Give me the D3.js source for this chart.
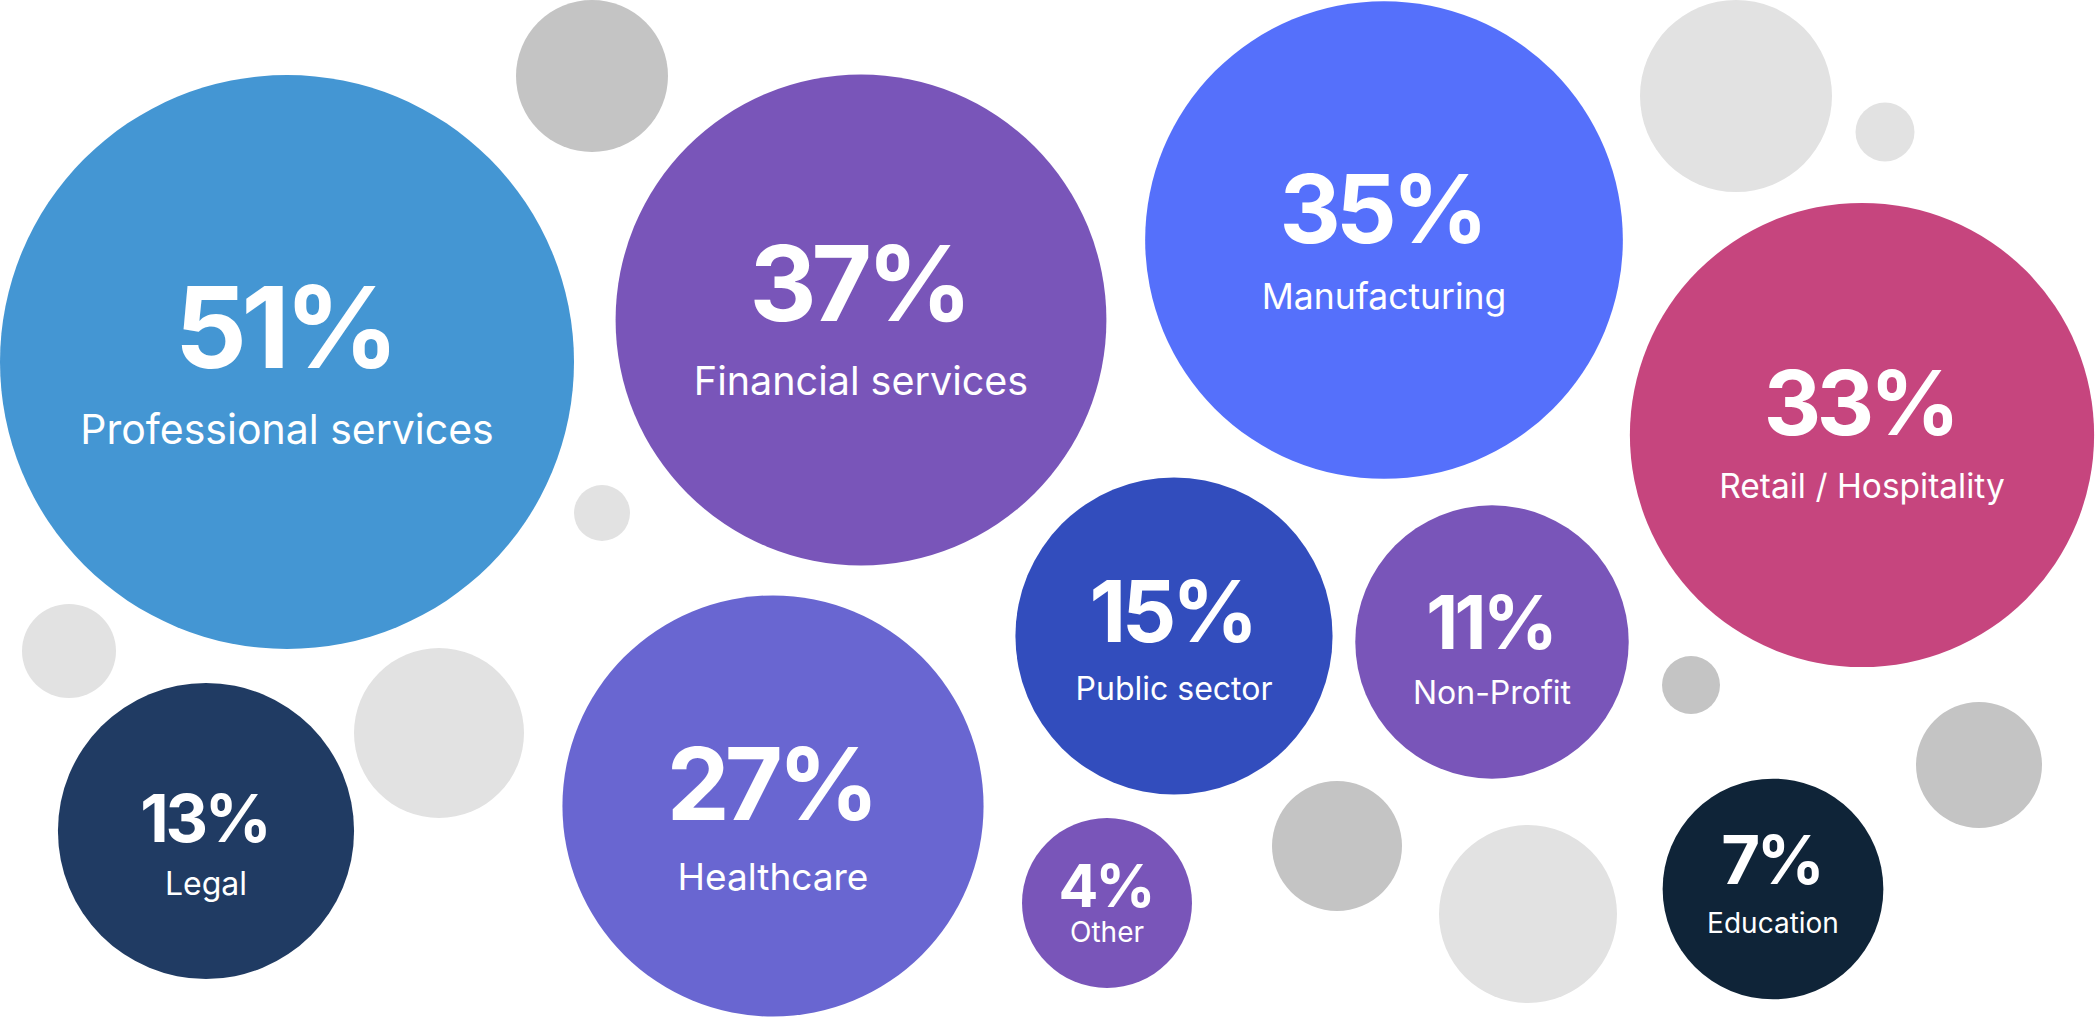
<!DOCTYPE html>
<html lang="en">
<head>
    <meta charset="UTF-8">
    <meta name="viewport" content="width=device-width, initial-scale=1.0">
    <style>
        html, body { margin: 0; padding: 0; background: #ffffff; overflow: hidden; }
        svg { display: block; }
    </style>
</head>
<body>
    <script src="https://d3js.org/d3.v7.min.js"></script>
    <div id="here"></div>

    <script>
        // data
        const sectors = ["Professional services", "Financial services", "Manufacturing", "Retail / Hospitality",
            "Healthcare", "Public sector", "Legal", "Non-Profit", "Education", "Other"];
        const shares = [51, 37, 35, 33, 27, 15, 13, 11, 7, 4];

        // layout (chart units = pixels of a 2096 x 1019 board)
        const centers = [[287, 362], [861, 320], [1384, 240], [1862, 435], [773, 806],
            [1174, 636], [206, 831], [1492, 642], [1773, 889], [1107, 903]];
        // baseline offsets from the centre: [value, label]
        const textOffsets = [[6, 82], [1, 75], [3, 69], [0, 63], [14, 84],
            [6, 64], [11, 64], [7, 62], [-5, 44], [4, 39]];
        const colors = ["#4496d3", "#7955b9", "#5570fb", "#c6457e", "#6966d1",
            "#324dbd", "#203b63", "#7955b9", "#0f2438", "#7955b9"];
        const valueFont = [113, 104, 95, 89, 100, 85, 66, 74, 67, 59];
        const labelFont = [41, 39.5, 35.5, 33.5, 37, 32, 32, 32, 28, 28];

        // decorative grey bubbles: x, y, radius, shade
        const fillers = [[592, 76, 76, 1], [602, 513, 28, 0], [69, 651, 47, 0], [439, 733, 85, 0],
            [1736, 96, 96, 0], [1885, 132, 29.5, 0], [1691, 685, 29, 1], [1979, 765, 63, 1],
            [1528, 914, 89, 0], [1337, 846, 65, 1]];
        const greys = ["#e2e2e2", "#c4c4c4"];

        const width = 2096, height = 1019;

        const x = d3.scaleLinear().domain([0, 2096]).range([0, width]);
        const y = d3.scaleLinear().domain([0, 1019]).range([0, height]);
        const r = d3.scaleSqrt().domain([0, 51]).range([6.4, 287]);

        const rows = sectors.map((name, i) => ({
            name, value: shares[i],
            cx: centers[i][0], cy: centers[i][1],
            vy: textOffsets[i][0], ly: textOffsets[i][1],
            color: colors[i], vf: valueFont[i], lf: labelFont[i]
        }));

        const svg = d3.select("#here")
            .append("svg")
                .attr("width", width)
                .attr("height", height);

        svg.append("g")
            .selectAll("circle")
            .data(fillers)
            .join("circle")
                .attr("cx", d => x(d[0]))
                .attr("cy", d => y(d[1]))
                .attr("r", d => d[2])
                .attr("fill", d => greys[d[3]]);

        const bubble = svg.append("g")
            .selectAll("g")
            .data(rows)
            .join("g")
                .attr("transform", d => `translate(${x(d.cx)},${y(d.cy)})`);

        bubble.append("circle")
            .attr("r", d => r(d.value))
            .attr("fill", d => d.color);

        // letter-spacing leaves a trailing gap, nudge back by half of it
        bubble.append("text")
            .attr("text-anchor", "middle")
            .attr("x", d => -d.vf * 0.025)
            .attr("y", d => d.vy)
            .attr("fill", "#ffffff")
            .style("font-family", "Inter, 'Noto Sans', sans-serif")
            .style("font-weight", 700)
            .style("font-size", d => d.vf + "px")
            .style("letter-spacing", "-0.05em")
            .text(d => d.value + "%");

        bubble.append("text")
            .attr("text-anchor", "middle")
            .attr("y", d => d.ly)
            .attr("fill", "#ffffff")
            .style("font-family", "Inter, 'Noto Sans', sans-serif")
            .style("font-weight", 400)
            .style("font-size", d => d.lf + "px")
            .text(d => d.name);
    </script>
</body>
</html>
